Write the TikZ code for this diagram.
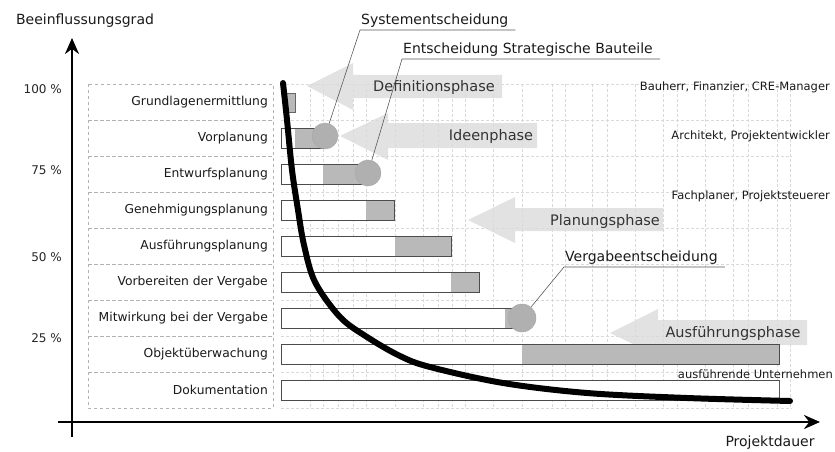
\documentclass[tikz,border=0pt]{standalone}
\usepackage{fontspec}
\setmainfont{DejaVu Sans}
\usetikzlibrary{arrows.meta}

\tikzset{
  gridline/.style={gray!30, densely dashed, line width=0.4pt},
  tablebox/.style={gray!60, dashed, line width=0.5pt},
  rowlbl/.style={anchor=east, inner sep=0pt, text=black!90, font=\fontsize{12.3}{14}\selectfont},
  pctlbl/.style={anchor=east, inner sep=0pt, text=black!85, font=\fontsize{12}{14}\selectfont},
  bar/.style={draw=black!70, fill=white, line width=0.8pt},
  busy/.style={fill=gray!55},
  decision/.style={circle, fill=gray!62, draw=gray!70, minimum size=#1, inner sep=0pt},
  declbl/.style={anchor=south west, inner xsep=1pt, inner ysep=2pt, text=black!90, font=\fontsize{14}{16}\selectfont},
  leader/.style={black!65, line width=0.6pt},
  phase/.style={fill=gray!28, opacity=0.8},
  phaselbl/.style={text=black!80, font=\fontsize{14.5}{16}\selectfont},
  actorlbl/.style={anchor=east, inner sep=0pt, text=black!90, font=\fontsize{11.5}{14}\selectfont},
  axis/.style={line width=2.4pt, -{Stealth[length=16pt,width=14pt]}}
}

\begin{document}
\begin{tikzpicture}[x=1pt,y=-1pt]
  \useasboundingbox (0,0) rectangle (835,452);

  % grid
  \foreach \gx in {310,323,338,353,366,395,423,438,452,465,493,522,552,565,592,607,635,663,677,705,733,748,777,790}
    \draw[gridline] (\gx,84) -- (\gx,408);
  \foreach \i in {0,...,9}
    \draw[gridline] (281,{84+36*\i}) -- (792,{84+36*\i});

  % phase arrows
  \fill[phase] (307,86) -- (353,63) -- (353,75) -- (502,75) -- (502,98) -- (353,98) -- (353,110) -- cycle;
  \fill[phase] (340,136) -- (388,113) -- (388,123) -- (537,123) -- (537,148) -- (388,148) -- (388,160) -- cycle;
  \fill[phase] (468,220) -- (515,197) -- (515,208) -- (663,208) -- (663,231) -- (515,231) -- (515,243) -- cycle;
  \fill[phase] (610,333) -- (658,309) -- (658,320) -- (807,320) -- (807,345) -- (658,345) -- (658,356) -- cycle;
  \node[phaselbl] (defph) at (434,87) {Definitionsphase};
  \node[phaselbl] (ideeph) at (491,136) {Ideenphase};
  \node[phaselbl] (planph) at (605,221) {Planungsphase};
  \node[phaselbl] (ausfph) at (733,333) {Ausführungsphase};

  % table of phases
  \foreach \lbl [count=\i from 0] in {Grundlagenermittlung, Vorplanung, Entwurfsplanung,
      Genehmigungsplanung, Ausführungsplanung, Vorbereiten der Vergabe,
      Mitwirkung bei der Vergabe, Objektüberwachung, Dokumentation} {
    \draw[tablebox] (88,{84+36*\i}) rectangle (273,{120+36*\i});
    \node[rowlbl] (row\i) at (268,{102+36*\i}) {\lbl};
  }

  % bars
  \draw[bar, draw=black!60, busy] (283,93) rectangle (295,112);
  \foreach \i/\g/\e in {1/295/325, 2/323/368, 3/366/394, 4/395/451, 5/451/479, 6/505/522, 7/522/779, 8/779/779} {
    \draw[bar] (281,{92+36*\i}) rectangle (\e,{112+36*\i});
    \fill[busy] (\g,{92.5+36*\i}) rectangle (\e,{111.5+36*\i});
  }

  % curve of influence
  \draw[line width=6pt, line cap=round] plot[smooth, tension=0.55] coordinates {
    (283,83) (287,120) (292,170) (298,210) (304,245) (315,282) (340,317)
    (367,337) (400,356) (430,367) (503,383) (587,393) (687,398) (790,401)};

  % decisions
  \node[decision=26pt] (sysdec) at (325,136) {};
  \node[decision=26pt] (bauteildec) at (368,173) {};
  \node[decision=28pt] (vergdec) at (522,318) {};
  \node[declbl] (syslbl) at (360,30) {Systementscheidung};
  \node[declbl] (bauteillbl) at (402,59) {Entscheidung Strategische Bauteile};
  \node[declbl] (verglbl) at (564,267) {Vergabeentscheidung};
  \draw[leader] (sysdec) -- (syslbl.south west) -- ([xshift=6pt]syslbl.south east);
  \draw[leader] (bauteildec) -- (bauteillbl.south west) -- ([xshift=6pt]bauteillbl.south east);
  \draw[leader] (vergdec) -- (verglbl.south west) -- ([xshift=6pt]verglbl.south east);

  % actors
  \node[actorlbl] (bauherr) at (830,87) {Bauherr, Finanzier, CRE-Manager};
  \node[actorlbl] (architekt) at (830,136) {Architekt, Projektentwickler};
  \node[actorlbl] (fachplaner) at (830,196) {Fachplaner, Projektsteuerer};
  \node[actorlbl] (firmen) at (833,374) {ausführende Unternehmen};

  % axes
  \node[pctlbl] (p100) at (62,89) {100 \%};
  \node[pctlbl] (p75) at (62,170) {75 \%};
  \node[pctlbl] (p50) at (62,257) {50 \%};
  \node[pctlbl] (p25) at (62,338) {25 \%};
  \draw[axis] (72,437) -- (72,38);
  \draw[axis] (58,422) -- (820,422);
  \node[text=black!90, font=\fontsize{14}{16}\selectfont] (ylbl) at (85,21) {Beeinflussungsgrad};
  \node[text=black!90, font=\fontsize{14}{16}\selectfont] (xlbl) at (770,443) {Projektdauer};
\end{tikzpicture}
\end{document}
